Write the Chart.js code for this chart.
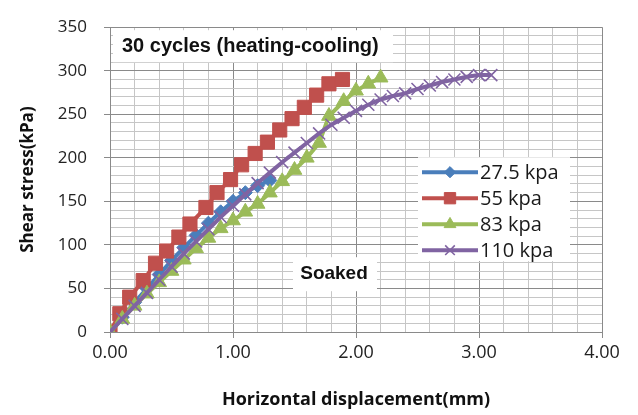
<!DOCTYPE html>
<html>
<head>
<meta charset="utf-8">
<script src="https://cdn.jsdelivr.net/npm/chart.js@4"></script>
<style>
  html, body { margin: 0; padding: 0; background: #fff; }
  #wrap { width: 638px; height: 415px; }
</style>
</head>
<body>
<div id="wrap"><canvas id="chart" width="638" height="415"></canvas></div>
<script>
// --------- Data ---------
const seriesNames = ["27.5 kpa", "55 kpa", "83 kpa", "110 kpa"];

const dispBlue   = [0, 0.1, 0.2, 0.3, 0.4, 0.5, 0.6, 0.7, 0.8, 0.9, 1.0, 1.1, 1.2, 1.3];
const stressBlue = [0, 17, 34, 50, 66, 82, 97, 111, 125, 138, 150, 160, 168, 174];

const dispRed   = [0, 0.08, 0.16, 0.27, 0.37, 0.46, 0.56, 0.65, 0.78, 0.87, 0.98, 1.07, 1.18, 1.28, 1.38, 1.48, 1.58, 1.68, 1.78, 1.89];
const stressRed = [0, 21, 40, 59, 79, 93, 109, 124, 143, 160, 175, 192, 205, 218, 232, 245, 258, 272, 285, 290];

const dispGreen   = [0, 0.1, 0.2, 0.3, 0.4, 0.5, 0.6, 0.7, 0.8, 0.9, 1.0, 1.1, 1.2, 1.3, 1.4, 1.5, 1.6, 1.7, 1.78, 1.9, 2.0, 2.1, 2.2];
const stressGreen = [0, 15, 30, 44, 57, 70, 83, 96, 108, 119, 128, 138, 147, 160, 173, 186, 200, 217, 248, 265, 277, 285, 292];

const dispPurple   = [0, 0.1, 0.2, 0.3, 0.4, 0.5, 0.6, 0.7, 0.8, 0.9, 1.0, 1.1, 1.2, 1.3, 1.4, 1.5,
                      1.6, 1.7, 1.8, 1.9, 2.0, 2.1, 2.2, 2.3, 2.4, 2.5, 2.6, 2.7, 2.8, 2.9, 3.0, 3.1];
const stressPurple = [0, 15, 30, 45, 60, 75, 90, 104, 118, 132, 145, 158, 171, 183, 195, 206,
                      217, 228, 238, 246, 254, 261, 267, 271, 274, 279, 283, 287, 290, 293, 295, 295];

const xTicks = [0, 1, 2, 3, 4];
const yTicks = [0, 50, 100, 150, 200, 250, 300, 350];

// --------- Helpers ---------
const toPoints = (xs, ys) => xs.map((x, i) => ({ x: x, y: ys[i] }));
const isMajorX = v => xTicks.some(t => Math.abs(t - v) < 1e-6);
const isMajorY = v => yTicks.some(t => Math.abs(t - v) < 1e-6);

const MAJOR = "#8a8a8a";
const MINOR = "#c6c6c6";

function series(label, xs, ys, color, style, radius, order) {
  return {
    label: label,
    data: toPoints(xs, ys),
    showLine: true,
    borderColor: color,
    backgroundColor: color,
    borderWidth: 4,
    pointStyle: style,
    pointRadius: radius,
    pointBorderWidth: style === "crossRot" ? 1.6 : 1,
    pointBorderColor: color,
    pointBackgroundColor: color,
    tension: 0,
    order: order
  };
}

const datasets = [
  series(seriesNames[0], dispBlue, stressBlue, "#4a7ebb", "rectRot", 7, 3),
  series(seriesNames[1], dispRed, stressRed, "#c0504d", "rect", 10, 2),
  series(seriesNames[2], dispGreen, stressGreen, "#9bbb59", "triangle", 8.5, 1),
  series(seriesNames[3], dispPurple, stressPurple, "#8064a2", "crossRot", 8.5, 0)
];

// --------- Text boxes + legend drawn on the canvas ---------
const overlay = {
  id: "overlay",
  afterDraw(chart) {
    const ctx = chart.ctx;
    const a = chart.chartArea;
    ctx.save();

    // title box
    ctx.fillStyle = "#fff";
    ctx.fillRect(a.left + 3, a.top + 3, 280, 32);
    ctx.fillStyle = "#111";
    ctx.font = "bold 20px 'Liberation Sans', Arial, sans-serif";
    ctx.textBaseline = "middle";
    ctx.textAlign = "left";
    ctx.fillText("30 cycles (heating-cooling)", a.left + 12, a.top + 19);

    // Soaked label
    ctx.fillStyle = "#fff";
    ctx.fillRect(a.left + 183, a.top + 230, 84, 34);
    ctx.fillStyle = "#111";
    ctx.font = "bold 19px 'Liberation Sans', Arial, sans-serif";
    ctx.textAlign = "center";
    ctx.fillText("Soaked", a.left + 224, a.top + 247);

    // legend
    const lx = a.left + 308, ly = a.top + 130;
    ctx.fillStyle = "#fff";
    ctx.fillRect(lx, ly, 152, 104);
    ctx.textAlign = "left";
    ctx.font = "20px 'Open Sans', sans-serif";
    datasets.forEach((ds, i) => {
      const y = ly + 15 + i * 26;
      ctx.strokeStyle = ds.borderColor;
      ctx.lineWidth = 4;
      ctx.beginPath();
      ctx.moveTo(lx + 4, y);
      ctx.lineTo(lx + 60, y);
      ctx.stroke();
      ctx.fillStyle = ds.borderColor;
      ctx.lineWidth = ds.pointBorderWidth;
      Chart.helpers.drawPoint(ctx, {
        pointStyle: ds.pointStyle,
        radius: ds.pointRadius * 0.8,
        rotation: 0,
        borderWidth: ds.pointBorderWidth
      }, lx + 32, y);
      ctx.fillStyle = "#1a1a1a";
      ctx.fillText(ds.label, lx + 62, y + 1);
    });

    ctx.restore();
  }
};

new Chart(document.getElementById("chart"), {
  type: "scatter",
  data: { datasets: datasets },
  plugins: [overlay],
  options: {
    responsive: false,
    animation: false,
    events: [],
    layout: { padding: { left: 0, right: 36, top: 22, bottom: 0 } },
    plugins: { legend: { display: false }, tooltip: { enabled: false } },
    scales: {
      x: {
        type: "linear",
        min: 0,
        max: 4,
        afterFit: s => { s.height = 83; },
        border: { display: true, color: MAJOR, width: 1 },
        grid: {
          color: c => isMajorX(c.tick.value) ? MAJOR : MINOR,
          tickColor: c => isMajorX(c.tick.value) ? MAJOR : "rgba(0,0,0,0)",
          tickLength: 6
        },
        ticks: {
          stepSize: 0.2,
          maxTicksLimit: 100,
          autoSkip: false,
          maxRotation: 0,
          padding: 4,
          color: "#222",
          font: { family: "'Open Sans', sans-serif", size: 18 },
          callback: v => isMajorX(v) ? Math.round(v).toFixed(2) : ""
        },
        title: {
          display: true,
          text: "Horizontal displacement(mm)",
          color: "#111",
          font: { family: "'Open Sans', sans-serif", size: 18, weight: "bold" },
          padding: { top: 0, bottom: 4 }
        }
      },
      y: {
        type: "linear",
        min: 0,
        max: 350,
        afterFit: s => { s.width = 110; },
        border: { display: true, color: MAJOR, width: 1 },
        grid: {
          color: c => isMajorY(c.tick.value) ? MAJOR : MINOR,
          tickColor: c => isMajorY(c.tick.value) ? MAJOR : "rgba(0,0,0,0)",
          tickLength: 6
        },
        ticks: {
          stepSize: 10,
          maxTicksLimit: 100,
          autoSkip: false,
          padding: 17,
          color: "#222",
          font: { family: "'Open Sans', sans-serif", size: 17 },
          callback: v => isMajorY(v) ? String(Math.round(v)) : ""
        },
        title: {
          display: true,
          text: "Shear stress(kPa)",
          color: "#111",
          font: { family: "'Open Sans', sans-serif", size: 17, weight: "bold" },
          padding: { top: 18, bottom: 0 }
        }
      }
    }
  }
});
</script>
</body>
</html>
